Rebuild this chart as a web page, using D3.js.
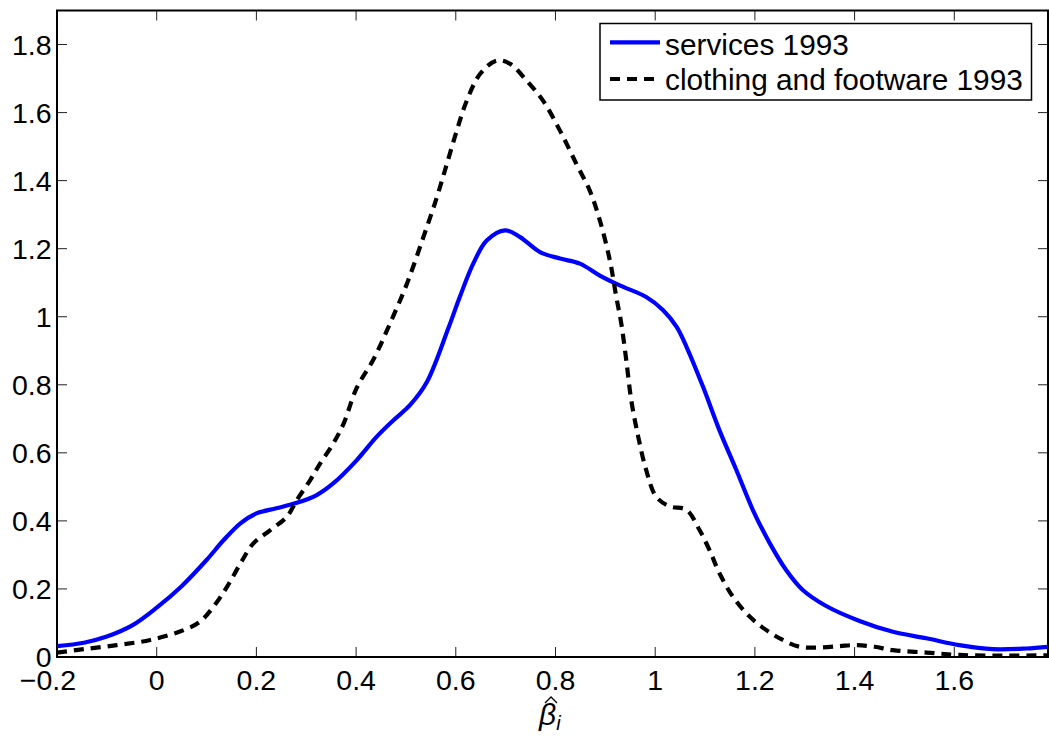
<!DOCTYPE html>
<html><head><meta charset="utf-8">
<script src="https://cdn.jsdelivr.net/npm/d3@7"></script>
<style>body{margin:0;background:#fff}svg{display:block}text{font-family:"Liberation Sans",Arial,sans-serif}</style>
</head><body>
<script>
const servicesX = [-0.2,-0.146,-0.1,-0.05,0,0.05,0.1,0.134,0.168,0.2,0.24,0.281,0.321,0.354,0.401,0.441,0.475,0.508,0.542,0.585,0.608,0.635,0.662,0.699,0.729,0.769,0.809,0.849,0.889,0.929,0.982,1.016,1.043,1.063,1.096,1.129,1.163,1.196,1.23,1.263,1.296,1.343,1.41,1.477,1.544,1.61,1.677,1.744,1.788];
const servicesY = [0.032,0.042,0.06,0.092,0.145,0.208,0.285,0.343,0.393,0.422,0.437,0.453,0.476,0.51,0.578,0.647,0.696,0.74,0.808,0.966,1.058,1.156,1.224,1.254,1.234,1.19,1.171,1.156,1.121,1.092,1.058,1.019,0.97,0.911,0.794,0.666,0.549,0.432,0.334,0.255,0.197,0.15,0.106,0.074,0.055,0.035,0.023,0.025,0.03];
const clothingX = [-0.2,-0.146,-0.08,-0.013,0.054,0.087,0.114,0.141,0.168,0.194,0.228,0.261,0.281,0.308,0.328,0.354,0.375,0.401,0.435,0.468,0.502,0.535,0.562,0.582,0.602,0.622,0.649,0.682,0.709,0.742,0.775,0.809,0.842,0.869,0.889,0.909,0.922,0.932,0.942,0.952,0.966,0.982,1.002,1.029,1.063,1.089,1.109,1.129,1.156,1.19,1.223,1.256,1.29,1.33,1.37,1.403,1.44,1.477,1.544,1.61,1.7,1.788];
const clothingY = [0.013,0.023,0.035,0.05,0.079,0.104,0.148,0.206,0.275,0.334,0.373,0.412,0.461,0.52,0.569,0.627,0.686,0.79,0.875,0.98,1.097,1.234,1.351,1.449,1.547,1.635,1.714,1.753,1.743,1.694,1.635,1.547,1.449,1.37,1.283,1.166,1.058,0.98,0.872,0.755,0.647,0.549,0.471,0.443,0.432,0.373,0.314,0.246,0.177,0.118,0.079,0.05,0.03,0.028,0.032,0.035,0.03,0.02,0.013,0.006,0.004,0.005];
const xTicks = [-0.2,0,0.2,0.4,0.6,0.8,1,1.2,1.4,1.6];
const yTicks = [0,0.2,0.4,0.6,0.8,1,1.2,1.4,1.6,1.8];
const seriesNames = ["services 1993","clothing and footware 1993"];

const W=1049,H=736;
const L=57,R=1048,T=10.5,B=657;
const x=d3.scaleLinear().domain([-0.2,1.788]).range([L,R]);
const y=d3.scaleLinear().domain([0,1.9]).range([B,T]);
const svg=d3.select("body").append("svg").attr("width",W).attr("height",H);
svg.append("defs").append("clipPath").attr("id","clip").append("rect")
  .attr("x",L).attr("y",T).attr("width",R-L).attr("height",B-T);

const fmt=v=>v===0?"0":(v<0?"\u2212"+String(-v):String(v));
const tl=10;
const g=svg.append("g");
xTicks.forEach(v=>{
  g.append("line").attr("x1",x(v)).attr("x2",x(v)).attr("y1",B).attr("y2",B-tl).attr("stroke","#222").attr("stroke-width",1);
  g.append("line").attr("x1",x(v)).attr("x2",x(v)).attr("y1",T).attr("y2",T+tl).attr("stroke","#222").attr("stroke-width",1);
  g.append("text").attr("x",x(v)+(v<0?-9:0)).attr("y",690).attr("text-anchor","middle").attr("font-size",28.5).text(fmt(v));
});
yTicks.forEach(v=>{
  g.append("line").attr("x1",L).attr("x2",L+tl).attr("y1",y(v)).attr("y2",y(v)).attr("stroke","#222").attr("stroke-width",1);
  g.append("line").attr("x1",R).attr("x2",R-tl).attr("y1",y(v)).attr("y2",y(v)).attr("stroke","#222").attr("stroke-width",1);
  g.append("text").attr("x",51.5).attr("y",y(v)+10).attr("text-anchor","end").attr("font-size",28.5).text(fmt(v));
});
svg.append("rect").attr("x",L).attr("y",T).attr("width",R-L).attr("height",B-T)
  .attr("fill","none").attr("stroke","#000").attr("stroke-width",2);

const line=d3.line().x(d=>x(d[0])).y(d=>y(d[1])).curve(d3.curveCatmullRom.alpha(0.5));
const sData=servicesX.map((v,i)=>[v,servicesY[i]]);
const cData=clothingX.map((v,i)=>[v,clothingY[i]]);
const plot=svg.append("g").attr("clip-path","url(#clip)");
plot.append("path").datum(sData).attr("d",line).attr("fill","none").attr("stroke","#0000ff").attr("stroke-width",4.2).attr("stroke-linejoin","round");
plot.append("path").datum(cData).attr("d",line).attr("fill","none").attr("stroke","#000").attr("stroke-width",4.2).attr("stroke-dasharray","10,7");

// legend
const lg=svg.append("g");
lg.append("rect").attr("x",600).attr("y",23.5).attr("width",431.5).attr("height",76.5).attr("fill","#fff").attr("stroke","#000").attr("stroke-width",1.5);
lg.append("line").attr("x1",610).attr("x2",660).attr("y1",42.3).attr("y2",42.3).attr("stroke","#0000ff").attr("stroke-width",4.2);
lg.append("line").attr("x1",610).attr("x2",660).attr("y1",79).attr("y2",79).attr("stroke","#000").attr("stroke-width",4.2).attr("stroke-dasharray","10,7");
lg.append("text").attr("x",665).attr("y",55).attr("font-size",29.8).text(seriesNames[0]);
lg.append("text").attr("x",665).attr("y",90).attr("font-size",29.8).text(seriesNames[1]);

// x label: beta hat sub i
const xl=svg.append("g");
xl.append("text").attr("x",539).attr("y",725).attr("font-family","'DejaVu Serif',serif").attr("font-style","italic").attr("font-size",30)
  .text("\u03B2").append("tspan").attr("font-size",20).attr("dy",5).text("i");
xl.append("path").attr("d","M545,703 L551,697 L557,703").attr("fill","none").attr("stroke","#000").attr("stroke-width",1.3);
</script>
</body></html>
